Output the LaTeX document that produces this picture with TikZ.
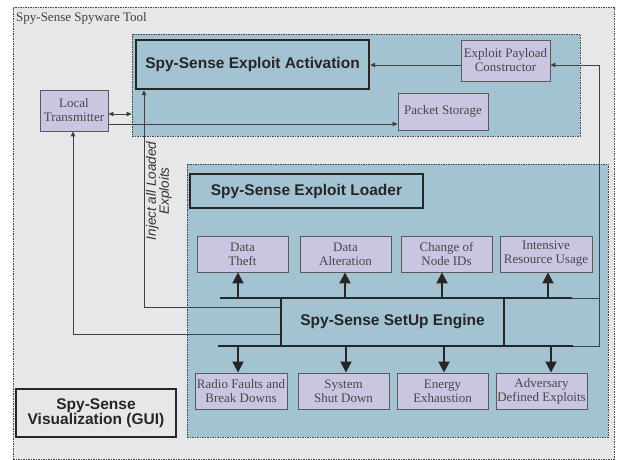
\documentclass[tikz,border=0pt]{standalone}
\usepackage{fontspec}
\setmainfont{Liberation Serif}
\setsansfont{Liberation Sans}
\usetikzlibrary{arrows.meta}
\definecolor{bggray}{RGB}{230,231,233}
\definecolor{regblue}{RGB}{163,195,210}
\definecolor{boxpurple}{RGB}{201,198,226}
\definecolor{edgegray}{RGB}{70,70,70}
\begin{document}
\begin{tikzpicture}[x=1pt,y=-1pt,
 outerbox/.style={draw=edgegray, line width=0.7pt, dash pattern=on 1.5pt off 1pt, fill=bggray, inner sep=0, anchor=center},
 region/.style={draw=edgegray, line width=0.7pt, dash pattern=on 1.5pt off 1pt, fill=regblue, inner sep=0, anchor=center},
 sbox/.style={draw=black!65, line width=0.9pt, fill=boxpurple, inner sep=0, align=center, font=\fontsize{13}{14}\selectfont, text=black!72},
 tbox/.style={draw=black!85, line width=2pt, inner sep=0, align=center, font=\sffamily\bfseries\fontsize{15.5}{15}\selectfont, text=black!85},
 bus/.style={line width=2pt, draw=black!85},
 busarr/.style={line width=2pt, draw=black!85, -{Triangle[width=11pt,length=11pt]}},
 thinline/.style={line width=0.8pt, draw=black!75},
 arr/.style={thinline, -{Triangle[width=4.5pt,length=5pt]}},
]
\useasboundingbox (0,0) rectangle (619,460);
\node[outerbox, minimum width=601pt, minimum height=452pt] (tool) at (313.5,233) {};
\node[anchor=west, font=\fontsize{13}{13}\selectfont, text=black!75, inner sep=0] (tooltitle) at (16,18) {Spy-Sense Spyware Tool};

\node[region, minimum width=448pt, minimum height=102pt] (actreg) at (356,85) {};
\node[region, minimum width=421pt, minimum height=273pt] (ldrreg) at (397.5,300.5) {};

\node[tbox, line width=2.4pt, minimum width=233pt, minimum height=49pt] (act) at (252.5,64.5) {Spy-Sense Exploit Activation};
\node[tbox, minimum width=233pt, minimum height=34pt] (ldr) at (306.5,191) {Spy-Sense Exploit Loader};
\node[tbox, minimum width=160pt, minimum height=48pt] (vis) at (96,413) {Spy-Sense\\Visualization (GUI)};

\node[sbox, minimum width=89pt, minimum height=41pt] (epc) at (505.5,60.5) {Exploit Payload\\Constructor};
\node[sbox, minimum width=90pt, minimum height=37pt] (ps) at (443,111.5) {Packet Storage};
\node[sbox, minimum width=68pt, minimum height=41pt] (lt) at (74,110.5) {Local\\Transmitter};

\node[sbox, minimum width=91pt, minimum height=36pt] (dt) at (242.5,254) {Data\\Theft};
\node[sbox, minimum width=91pt, minimum height=36pt] (da) at (345.5,254) {Data\\Alteration};
\node[sbox, minimum width=91pt, minimum height=36pt] (cn) at (446.5,254) {Change of\\Node IDs};
\node[sbox, minimum width=92pt, minimum height=36pt] (ir) at (546,254) {Intensive\\Resource Usage};

\node[sbox, minimum width=92pt, minimum height=36pt] (rf) at (241,391) {Radio Faults and\\Break Downs};
\node[sbox, minimum width=91pt, minimum height=36pt] (ss) at (343.5,391) {System\\Shut Down};
\node[sbox, minimum width=91pt, minimum height=36pt] (ee) at (442.5,391) {Energy\\Exhaustion};
\node[sbox, minimum width=91pt, minimum height=36pt] (ad) at (541.5,391) {Adversary\\Defined Exploits};

\node[font=\sffamily\bfseries\fontsize{15.5}{15}\selectfont, text=black!85, inner sep=0] (eng) at (392.5,322) {Spy-Sense SetUp Engine};

% engine frame
\coordinate (tbL) at (220,298);
\coordinate (tbR) at (572,298);
\coordinate (bbL) at (218,346);
\coordinate (bbR) at (573,346);
\coordinate (v1t) at (281,298);
\coordinate (v1b) at (281,346);
\coordinate (v2t) at (504,298);
\coordinate (v2b) at (504,346);
\coordinate (rt) at (599,298);
\coordinate (rb) at (599,346);
\coordinate (rj) at (599,65);
\coordinate (inj) at (144,307);
\coordinate (ltj) at (73,334);
\coordinate (lta) at (108,114);
\coordinate (ltb) at (108,124);

\draw[bus] (tbL) -- (tbR);
\draw[bus] (bbL) -- (bbR);
\draw[bus] (v1t) -- (v1b);
\draw[bus] (v2t) -- (v2b);
\draw[thinline] (tbR) -- (rt);
\draw[thinline] (bbR) -- (rb) -- (rj);
\draw[arr] (rj) -- (rj -| epc.east);
\draw[arr] (rj -| epc.west) -- (rj -| act.east);
\draw[arr] (inj -| v1t) -- (inj) -- (inj |- act.south);
\draw[arr] (ltj -| v1t) -- (ltj) -- (ltj |- lt.south);
\draw[thinline, {Triangle[width=4.5pt,length=5pt]}-{Triangle[width=4.5pt,length=5pt]}] (lta -| lt.east) -- (lta -| actreg.west);
\draw[arr] (ltb -| lt.east) -- (ltb -| ps.west);

\node[rotate=90, font=\sffamily\itshape\fontsize{13.5}{13}\selectfont, text=black!80, align=center, inner sep=0] (injlabel) at (159,191) {Inject all Loaded\\Exploits};

% top bus arrows
\coordinate (a1) at ([xshift=-4.5pt]dt.south);
\coordinate (a2) at ([xshift=-0.5pt]da.south);
\coordinate (a3) at ([xshift=-4.5pt]cn.south);
\coordinate (a4) at ([xshift=2pt]ir.south);
\draw[busarr] (a1 |- tbL) -- (a1);
\draw[busarr] (a2 |- tbL) -- (a2);
\draw[busarr] (a3 |- tbL) -- (a3);
\draw[busarr] (a4 |- tbL) -- (a4);

% bottom bus arrows
\coordinate (b1) at ([xshift=-3pt]rf.north);
\coordinate (b2) at ([xshift=2.5pt]ss.north);
\coordinate (b3) at ([xshift=1.5pt]ee.north);
\coordinate (b4) at ([xshift=9.5pt]ad.north);
\draw[busarr] (b1 |- bbL) -- (b1);
\draw[busarr] (b2 |- bbL) -- (b2);
\draw[busarr] (b3 |- bbL) -- (b3);
\draw[busarr] (b4 |- bbL) -- (b4);
\end{tikzpicture}
\end{document}
